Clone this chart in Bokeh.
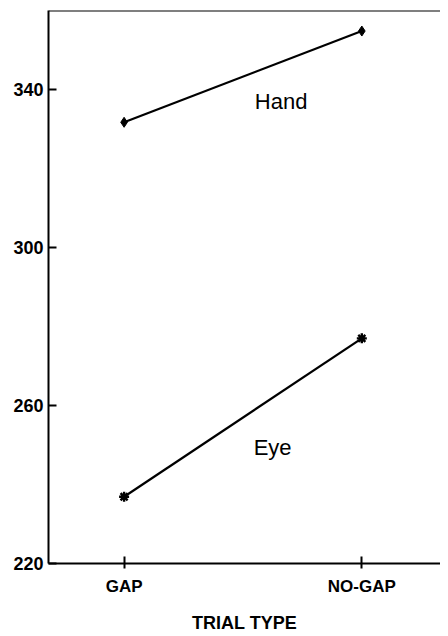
from bokeh.plotting import figure
from bokeh.models import FixedTicker, Label, Range1d, Span
from bokeh.embed import file_html
from bokeh.resources import INLINE

categories = ["GAP", "NO-GAP"]
hand = [331.7, 354.8]
eye = [236.9, 277.0]
y_ticks = [220, 260, 300, 340]
x_title = "TRIAL TYPE"

FONT = "Liberation Sans"
xs = list(range(len(categories)))

p = figure(frame_width=392, frame_height=553,
           x_range=Range1d(-0.318, 1.331), y_range=Range1d(220, 360),
           output_backend="svg", toolbar_location=None,
           min_border_left=48, min_border_right=0, min_border_top=10,
           min_border_bottom=65)
p.grid.visible = False
p.outline_line_color = None
p.background_fill_color = "white"
p.border_fill_color = "white"

# top frame line
p.add_layout(Span(location=360, dimension="width", line_color="black",
                  line_width=2))

xa = p.below[0]
xa.ticker = FixedTicker(ticks=xs)
xa.major_label_overrides = {i: c for i, c in enumerate(categories)}
xa.axis_label = x_title
xa.axis_line_width = 2
xa.major_tick_line_width = 2
xa.major_tick_in = 7
xa.major_tick_out = 5
xa.minor_tick_line_color = None
xa.major_label_standoff = 8
xa.axis_label_standoff = 14
xa.major_label_text_font = FONT
xa.major_label_text_font_size = "17px"
xa.major_label_text_font_style = "bold"
xa.axis_label_text_font = FONT
xa.axis_label_text_font_size = "18px"
xa.axis_label_text_font_style = "bold"
xa.major_label_text_color = "black"
xa.axis_label_text_color = "black"

ya = p.left[0]
ya.ticker = FixedTicker(ticks=y_ticks)
ya.axis_line_width = 2
ya.major_tick_line_width = 2
ya.major_tick_in = 8
ya.major_tick_out = 0
ya.minor_tick_line_color = None
ya.major_label_standoff = 5
ya.major_label_text_font = FONT
ya.major_label_text_font_size = "18px"
ya.major_label_text_font_style = "bold"
ya.major_label_text_color = "black"

p.line(xs, hand, line_color="black", line_width=2.2)
p.scatter(xs, hand, marker="diamond", size=10, color="black")
p.line(xs, eye, line_color="black", line_width=2.2)
p.scatter(xs, eye, marker="asterisk", size=10, line_color="black", line_width=2.4)

p.add_layout(Label(x=0.55, y=336.9, text="Hand", text_font=FONT,
                   text_font_size="22px", text_baseline="alphabetic",
                   text_color="black"))
p.add_layout(Label(x=0.545, y=249.4, text="Eye", text_font=FONT,
                   text_font_size="22px", text_baseline="alphabetic",
                   text_color="black"))

open("out.html", "w").write(file_html(p, INLINE))
